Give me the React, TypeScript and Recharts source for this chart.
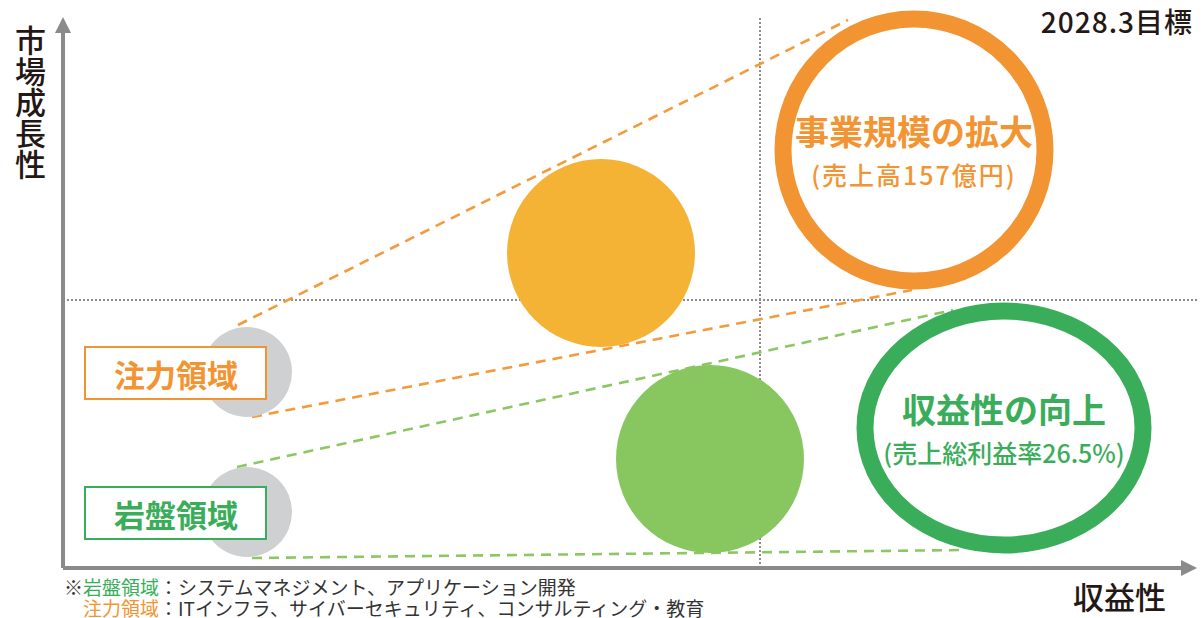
import React from 'react'
import { ScatterChart, Scatter, XAxis, YAxis, ReferenceLine, ReferenceDot } from 'recharts'

const FONT = '"Noto Sans CJK JP", "Noto Sans", sans-serif'

// 現在の領域（灰色の円）
const areas = ['注力領域', '岩盤領域']
const areaX = [184, 184]
const areaY = [196, 56]
const areaR = [45, 45]

// 中間の円（塗り）
const midX = [538, 647]
const midY = [315, 109]
const midR = [94, 94]

// 2028.3目標（リング）
const goals = ['事業規模の拡大', '収益性の向上']
const goalNotes = ['(売上高157億円)', '(売上総利益率26.5%)']
const goalX = [851, 941]
const goalY = [418, 140]
const goalRx = [131, 139]
const goalRy = [131, 117]

// 破線：現在 → 目標
const linkFromX = [175, 189, 174, 189]
const linkFromY = [243, 151, 101, 10]
const linkToX = [785, 849, 890, 902]
const linkToY = [548, 278, 258, 18]

// 象限の区切り
const splitX = 697
const splitY = 268

const X_MAX = 1134
const Y_MAX = 551
const ORANGE = '#f39433'
const GREEN = '#3aad5a'
const AREA_COLORS = [ORANGE, GREEN]
const MID_COLORS = ['#f5b335', '#88c65f']
const LINK_COLORS = ['#f39a3c', '#f39a3c', '#8cc763', '#8cc763']
const NOTE_SPACING = [2, 0]
const AXIS = '#8a8a8a'

const areaData = areas.map((name, i) => ({ name, x: areaX[i], y: areaY[i], r: areaR[i], color: AREA_COLORS[i] }))
const midData = midX.map((x, i) => ({ x, y: midY[i], r: midR[i], color: MID_COLORS[i] }))
const goalData = goals.map((name, i) => ({
  name, note: goalNotes[i], x: goalX[i], y: goalY[i], rx: goalRx[i], ry: goalRy[i],
  color: AREA_COLORS[i], spacing: NOTE_SPACING[i],
}))

// eslint-disable-next-line @typescript-eslint/no-explicit-any
const AreaShape = (p: any) => {
  const { cx, cy, payload } = p
  const c = payload.color
  return (
    <g>
      <circle cx={cx} cy={cy} r={payload.r} fill="#cfd0d2" />
      <rect x={cx - 162} y={cy - 25} width={181} height={52} fill="#fff" stroke={c} strokeWidth={2} />
      <text x={cx - 71} y={cy + 1} textAnchor="middle" dominantBaseline="central"
        fontSize={31} fontWeight={700} fill={c} fontFamily={FONT}>{payload.name}</text>
    </g>
  )
}

// eslint-disable-next-line @typescript-eslint/no-explicit-any
const MidShape = (p: any) => <circle cx={p.cx} cy={p.cy} r={p.payload.r} fill={p.payload.color} />

// eslint-disable-next-line @typescript-eslint/no-explicit-any
const GoalShape = (p: any) => {
  const { cx, cy, payload } = p
  const c = payload.color
  return (
    <g>
      <ellipse cx={cx} cy={cy} rx={payload.rx} ry={payload.ry} fill="#fff" stroke={c} strokeWidth={17} />
      <text x={cx} y={cy - 20} textAnchor="middle" dominantBaseline="central"
        fontSize={34} fontWeight={700} fill={c} fontFamily={FONT}>{payload.name}</text>
      <text x={cx} y={cy + 24} textAnchor="middle" dominantBaseline="central" letterSpacing={payload.spacing}
        fontSize={25} fontWeight={500} fill={c} fontFamily={FONT}>{payload.note}</text>
    </g>
  )
}

// eslint-disable-next-line @typescript-eslint/no-explicit-any
const UpArrow = (p: any) => <path d={`M${p.cx},${p.cy} L${p.cx - 8},${p.cy + 16} L${p.cx + 8},${p.cy + 16} Z`} fill={AXIS} />
// eslint-disable-next-line @typescript-eslint/no-explicit-any
const RightArrow = (p: any) => <path d={`M${p.cx},${p.cy} L${p.cx - 16},${p.cy - 8} L${p.cx - 16},${p.cy + 8} Z`} fill={AXIS} />

export default function App() {
  return (
    <div style={{ position: 'relative', width: 1203, height: 618, fontFamily: FONT, background: '#fff', overflow: 'hidden' }}>
      <style>{'body{margin:0}'}</style>
      <ScatterChart width={1203} height={618} margin={{ top: 17, right: 6, bottom: 50, left: 63 }}>
        <XAxis type="number" dataKey="x" domain={[0, X_MAX]} hide />
        <YAxis type="number" dataKey="y" domain={[0, Y_MAX]} hide />

        <ReferenceLine y={splitY} stroke="#8c8c8c" strokeWidth={2} strokeDasharray="2 2"
          segment={[{ x: 5, y: splitY }, { x: 1127, y: splitY }]} />
        <ReferenceLine x={splitX} stroke="#8c8c8c" strokeWidth={2} strokeDasharray="2 2"
          segment={[{ x: splitX, y: 0 }, { x: splitX, y: Y_MAX - 1 }]} />

        <Scatter data={midData} shape={MidShape} isAnimationActive={false} />
        <Scatter data={goalData} shape={GoalShape} isAnimationActive={false} />

        {linkFromX.map((x, i) => (
          <ReferenceLine key={i} stroke={LINK_COLORS[i]} strokeWidth={2.6} strokeDasharray="10 7"
            segment={[{ x, y: linkFromY[i] }, { x: linkToX[i], y: linkToY[i] }]} />
        ))}

        <Scatter data={areaData} shape={AreaShape} isAnimationActive={false} />

        <ReferenceLine stroke={AXIS} strokeWidth={4} segment={[{ x: 0, y: 0 }, { x: 0, y: Y_MAX - 14 }]} />
        <ReferenceLine stroke={AXIS} strokeWidth={4} segment={[{ x: 0, y: 0 }, { x: X_MAX - 14, y: 0 }]} />
        <ReferenceDot x={0} y={Y_MAX} shape={UpArrow} />
        <ReferenceDot x={X_MAX} y={0} shape={RightArrow} />
      </ScatterChart>

      <div style={{ position: 'absolute', left: 15, top: 25, writingMode: 'vertical-rl', fontSize: 31, lineHeight: '31px', fontWeight: 500, color: '#231815' }}>
        市場成長性
      </div>
      <div style={{ position: 'absolute', right: 10, top: 4, fontSize: 28, lineHeight: '34px', letterSpacing: 1, fontWeight: 500, color: '#231815' }}>
        2028.3目標
      </div>
      <div style={{ position: 'absolute', left: 1073, top: 580, fontSize: 31, lineHeight: '31px', fontWeight: 500, color: '#231815' }}>
        収益性
      </div>
      <div style={{ position: 'absolute', left: 64, top: 576, fontSize: 19, lineHeight: '21px', color: '#333' }}>
        ※<span style={{ color: GREEN }}>岩盤領域</span>：システムマネジメント、アプリケーション開発
      </div>
      <div style={{ position: 'absolute', left: 83, top: 597, fontSize: 19, lineHeight: '21px', color: '#333' }}>
        <span style={{ color: ORANGE }}>注力領域</span>：ITインフラ、サイバーセキュリティ、コンサルティング・教育
      </div>
    </div>
  )
}
